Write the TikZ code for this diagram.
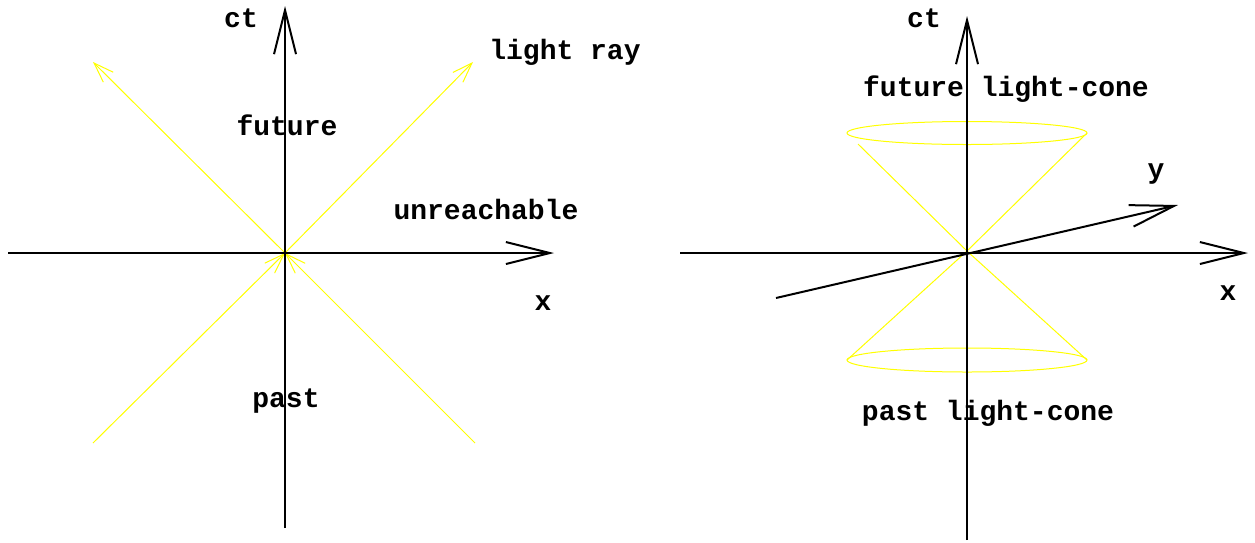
\documentclass[tikz,border=0pt]{standalone}
\usepackage{fontspec}
\setmainfont{Liberation Mono}
\usetikzlibrary{arrows.meta}
\definecolor{ray}{RGB}{255,255,0}
\tikzset{
  axis/.style={line width=2pt, black, -{Straight Barb[length=44pt,width=22pt,line width=2pt]}},
  axisplain/.style={line width=2pt, black},
  lray/.style={line width=1pt, ray, -{Straight Barb[length=20pt,width=14pt,line width=1pt]}},
  cone/.style={line width=1pt, ray},
  lbl/.style={inner sep=0pt, font=\fontsize{28}{30}\selectfont\bfseries}
}
\begin{document}
\begin{tikzpicture}[x=1pt,y=-1pt]
\useasboundingbox (0,0) rectangle (1255,542);
% left diagram
\coordinate (O1) at (285,253);
\coordinate (xl) at (8,253);
\coordinate (xr) at (554,253);
\coordinate (tb) at (285,528);
\coordinate (tt) at (285,6);
\coordinate (r1) at (93,62);
\coordinate (r2) at (473,62);
\coordinate (r3) at (93,443);
\coordinate (r4) at (475,443);
\draw[lray] (O1) -- (r1);
\draw[lray] (O1) -- (r2);
\draw[lray] (r3) -- (O1);
\draw[lray] (r4) -- (O1);
\draw[axis] (xl) -- (xr);
\draw[axis] (tb) -- (tt);
\node[lbl] (ct1) at (241,18) {ct};
\node[lbl] (lr) at (565,52) {light ray};
\node[lbl] (fut) at (287,125) {future};
\node[lbl] (unr) at (486,209) {unreachable};
\node[lbl] (x1) at (543,303) {x};
\node[lbl] (past) at (286,401) {past};
% right diagram
\coordinate (O2) at (967,251);
\coordinate (xl2) at (680,253);
\coordinate (xr2) at (1248,253);
\coordinate (tb2) at (967,540);
\coordinate (tt2) at (967,16);
\coordinate (yb) at (776,298);
\coordinate (yt) at (1178,205);
\coordinate (ft) at (967,133);
\coordinate (pt) at (967,360);
\coordinate (fl) at (858,144);
\coordinate (fr) at (1087,133);
\coordinate (pl) at (847,360);
\coordinate (pr) at (1087,360);
\draw[cone] (ft) ellipse [x radius=120, y radius=11.5];
\draw[cone] (pt) ellipse [x radius=120, y radius=12];
\draw[cone] (fl) -- (O2) -- (fr);
\draw[cone] (pl) -- (O2) -- (pr);
\draw[axis] (xl2) -- (xr2);
\draw[axis] (tb2) -- (tt2);
\draw[axis] (yb) -- (yt);
\node[lbl] (ct2) at (924,18) {ct};
\node[lbl] (flc) at (1006,89) {future light-cone};
\node[lbl] (y2) at (1156,174) {y};
\node[lbl] (x2) at (1228,293) {x};
\node[lbl] (plc) at (988,413) {past light-cone};
\end{tikzpicture}
\end{document}
